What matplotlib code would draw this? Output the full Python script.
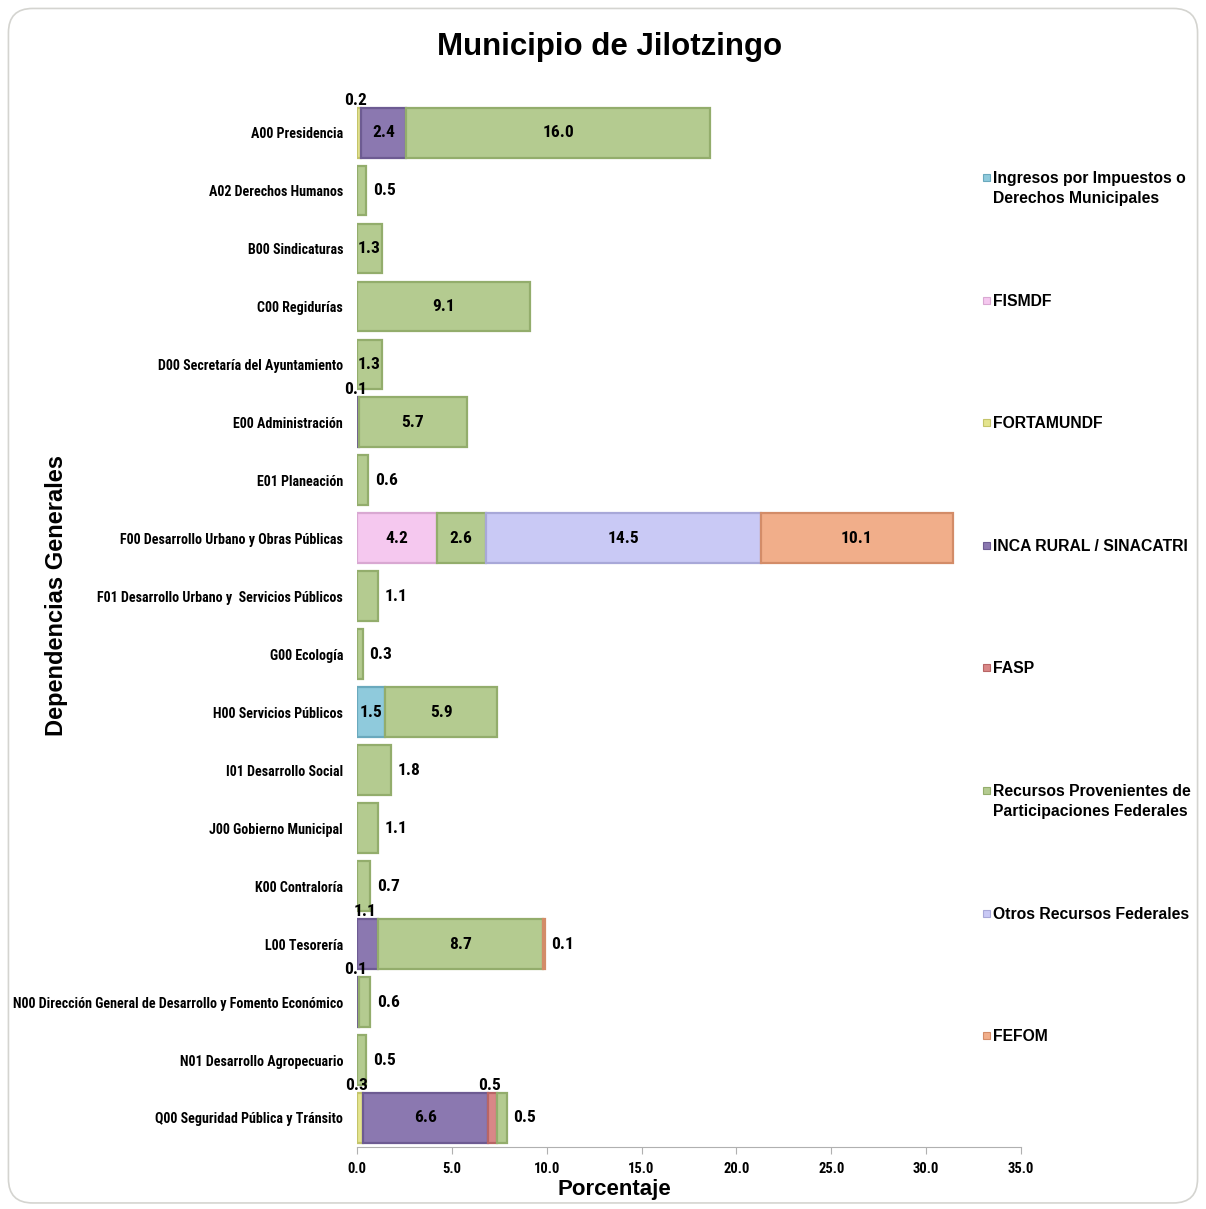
import matplotlib

matplotlib.use("Agg")
import matplotlib.pyplot as plt
import numpy as np
from matplotlib.patches import FancyBboxPatch, Rectangle

NARROW = ["Liberation Sans Narrow", "DejaVu Sans Condensed", "Roboto Condensed",
          "Liberation Sans", "DejaVu Sans"]
PLAIN = ["Liberation Sans", "DejaVu Sans"]
plt.rcParams["font.family"] = NARROW

categories = [
    "A00 Presidencia",
    "A02 Derechos Humanos",
    "B00 Sindicaturas",
    "C00 Regidurías",
    "D00 Secretaría del Ayuntamiento",
    "E00 Administración",
    "E01 Planeación",
    "F00 Desarrollo Urbano y Obras Públicas",
    "F01 Desarrollo Urbano y  Servicios Públicos",
    "G00 Ecología",
    "H00 Servicios Públicos",
    "I01 Desarrollo Social",
    "J00 Gobierno Municipal",
    "K00 Contraloría",
    "L00 Tesorería",
    "N00 Dirección General de Desarrollo y Fomento Económico",
    "N01 Desarrollo Agropecuario",
    "Q00 Seguridad Pública y Tránsito",
]

series_names = [
    "Ingresos por Impuestos o\nDerechos Municipales",
    "FISMDF",
    "FORTAMUNDF",
    "INCA RURAL / SINACATRI",
    "FASP",
    "Recursos Provenientes de\nParticipaciones Federales",
    "Otros Recursos Federales",
    "FEFOM",
]

ingresos = [0, 0, 0, 0, 0, 0, 0, 0, 0, 0, 1.5, 0, 0, 0, 0, 0, 0, 0]
fismdf = [0, 0, 0, 0, 0, 0, 0, 4.2, 0, 0, 0, 0, 0, 0, 0, 0, 0, 0]
fortamundf = [0.2, 0, 0, 0, 0, 0, 0, 0, 0, 0, 0, 0, 0, 0, 0, 0, 0, 0.3]
inca = [2.4, 0, 0, 0, 0, 0.1, 0, 0, 0, 0, 0, 0, 0, 0, 1.1, 0.1, 0, 6.6]
fasp = [0, 0, 0, 0, 0, 0, 0, 0, 0, 0, 0, 0, 0, 0, 0, 0, 0, 0.5]
participaciones = [16.0, 0.5, 1.3, 9.1, 1.3, 5.7, 0.6, 2.6, 1.1, 0.3, 5.9, 1.8, 1.1, 0.7, 8.7, 0.6, 0.5, 0.5]
otros_federales = [0, 0, 0, 0, 0, 0, 0, 14.5, 0, 0, 0, 0, 0, 0, 0, 0, 0, 0]
fefom = [0, 0, 0, 0, 0, 0, 0, 10.1, 0, 0, 0, 0, 0, 0, 0.1, 0, 0, 0]

x_ticks = [0, 5, 10, 15, 20, 25, 30, 35]

colors = ["#8fcadc", "#f5c8ef", "#e4e48e", "#8b78b0", "#d98787", "#b4cb90", "#c9c9f5", "#f1ae8a"]
edges = ["#6aa9bd", "#d9a8d2", "#c4c46a", "#6d5b92", "#b86565", "#93ad6c", "#a8a8d8", "#d38c68"]

data = np.array([ingresos, fismdf, fortamundf, inca, fasp,
                 participaciones, otros_federales, fefom])

# labels drawn outside to the right even if the segment is wide enough
outside_right = {"I01 Desarrollo Social"}

fig = plt.figure(figsize=(12.06, 12.09), dpi=100)
fig.patches.append(FancyBboxPatch((0.007, 0.005), 0.986, 0.988,
                                  boxstyle="round,pad=0,rounding_size=0.02",
                                  transform=fig.transFigure, facecolor="white",
                                  edgecolor="#d4d4d0", linewidth=1.2, zorder=-10))

ax = fig.add_axes([0.296, 0.0513, 0.5505, 0.863])
ax.patch.set_alpha(0)

y = np.arange(len(categories))
left = np.zeros(len(categories))
for i in range(len(series_names)):
    m = data[i] > 0
    ax.barh(y[m], data[i][m], left=left[m], height=0.86, color=colors[i],
            edgecolor=edges[i], linewidth=1.6)
    left = left + data[i]

totals = data.sum(axis=0)
for j, cat in enumerate(categories):
    nz = [i for i in range(len(series_names)) if data[i, j] > 0]
    start = 0.0
    for i in nz:
        v = data[i, j]
        txt = f"{v:.1f}"
        if v >= 1.2 and cat not in outside_right:
            ax.text(start + v / 2, j, txt, ha="center", va="center",
                    fontsize=12.5, fontweight="bold")
        elif i == nz[-1]:
            ax.text(totals[j] + 0.35, j, txt, ha="left", va="center",
                    fontsize=12.5, fontweight="bold")
        else:
            ax.text(start + v / 2 - 0.15, j - 0.43, txt, ha="center", va="bottom",
                    fontsize=12.5, fontweight="bold")
        start += v

ax.set_ylim(len(categories) - 0.5, -0.5)
ax.set_xlim(0, 35)
ax.set_yticks(y)
ax.set_yticklabels(categories, fontsize=10.1, fontweight="bold")
ax.tick_params(axis="y", length=0, pad=10)
ax.set_xticks(x_ticks)
ax.set_xticklabels([f"{t:.1f}" for t in x_ticks], fontsize=10.5, fontweight="bold")
ax.tick_params(axis="x", length=5, color="#b0b0b0", pad=6)
for side in ["top", "right", "left"]:
    ax.spines[side].set_visible(False)
ax.spines["bottom"].set_color("#b0b0b0")

W, H = 1206, 1209
fig.text(614 / W, 1 - 1190 / H, "Porcentaje", ha="center", va="center",
         fontsize=16, fontweight="bold", family=PLAIN)
fig.text(57 / W, 1 - 595 / H, "Dependencias Generales", rotation=90, ha="center",
         va="center", fontsize=17, fontweight="bold", family=PLAIN)
fig.text(610 / W, 1 - 47 / H, "Municipio de Jilotzingo", ha="center", va="center",
         fontsize=22.5, fontweight="bold", family=PLAIN)

# legend, spread down the right side
for i, name in enumerate(series_names):
    yc = 177 + i * 122.6
    fig.patches.append(Rectangle((983 / W, 1 - (yc + 4) / H), 7 / W, 7 / H,
                                 transform=fig.transFigure, facecolor=colors[i],
                                 edgecolor=edges[i], linewidth=0.8))
    for k, line in enumerate(name.split("\n")):
        fig.text(993 / W, 1 - (yc + 6 + k * 20) / H, line, ha="left", va="baseline",
                 fontsize=11.3, fontweight="bold", family=PLAIN)

fig.savefig("out.png", dpi=100)
